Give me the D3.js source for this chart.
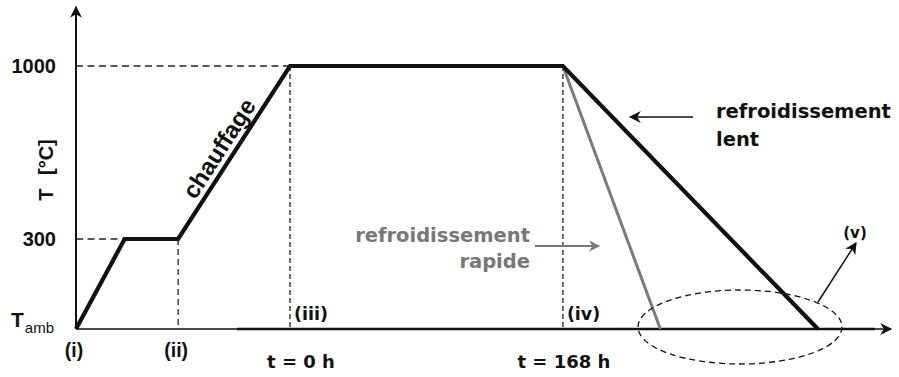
<!DOCTYPE html>
<html>
<head>
<meta charset="utf-8">
<script src="https://cdn.jsdelivr.net/npm/d3@7"></script>
<style>
  body { margin: 0; background: #fff; }
  svg text { fill: #111; }
</style>
</head>
<body>
<div id="graph"></div>
<script>
var width = 899;
var height = 377;

// time in hours (t = 0 h at the start of the 1000 °C hold)
var heatTimes = [-132, -102, -69, 0, 168];
var heatTemps = [25, 300, 300, 1000, 1000];
var slowTimes = [168, 325];
var slowTemps = [1000, 25];
var fastTimes = [168, 228];
var fastTemps = [1000, 25];

var yTicks = [300, 1000];
var yTickLabels = ["300", "1000"];
var stepTimes = [-132, -69, 0, 168];
var stepLabels = ["(i)", "(ii)", "(iii)", "(iv)"];
var timeTicks = [0, 168];
var timeTickLabels = ["t = 0 h", "t = 168 h"];

var x = d3.scaleLinear().domain([-132, 0, 370]).range([76, 290, 891]);
var y = d3.scaleLinear().domain([25, 300, 1000]).range([329, 239, 66]);

var svg = d3.select("#graph").append("svg")
  .attr("width", width)
  .attr("height", height);

var defs = svg.append("defs");
function addArrow(id, color, w, h) {
  defs.append("marker")
    .attr("id", id)
    .attr("viewBox", "0 0 10 10")
    .attr("refX", 9).attr("refY", 5)
    .attr("markerUnits", "userSpaceOnUse")
    .attr("markerWidth", w).attr("markerHeight", h)
    .attr("orient", "auto")
    .append("path")
    .attr("d", "M0,0 L10,5 L0,10 L3,5 Z")
    .attr("fill", color);
}
addArrow("arrBlack", "#111", 14, 12);
addArrow("arrGray", "#777", 13, 11);
addArrow("arrAxis", "#111", 16, 12);

// dashed guide lines
var guides = svg.append("g")
  .attr("stroke", "#222")
  .attr("stroke-width", 1.3)
  .attr("stroke-dasharray", "7,4.5")
  .attr("fill", "none");
guides.append("line").attr("x1", x(-132)).attr("x2", x(0)).attr("y1", y(1000)).attr("y2", y(1000));
guides.append("line").attr("x1", x(-132)).attr("x2", x(-102)).attr("y1", y(300)).attr("y2", y(300));
guides.append("line").attr("x1", x(-69)).attr("x2", x(-69)).attr("y1", y(300)).attr("y2", y(25)).attr("stroke-dasharray", "6,4");
guides.append("line").attr("x1", x(0)).attr("x2", x(0)).attr("y1", y(1000)).attr("y2", y(25)).attr("stroke-dasharray", "5,3");
guides.append("line").attr("x1", x(168)).attr("x2", x(168)).attr("y1", y(1000)).attr("y2", y(25)).attr("stroke-dasharray", "5,3");

// axes
svg.append("line")
  .attr("x1", x(-132)).attr("x2", x(-132))
  .attr("y1", y(25)).attr("y2", 7)
  .attr("stroke", "#111").attr("stroke-width", 2)
  .attr("marker-end", "url(#arrAxis)");
svg.append("line")
  .attr("x1", x(-132)).attr("x2", x(370))
  .attr("y1", y(25)).attr("y2", y(25))
  .attr("stroke", "#111").attr("stroke-width", 1.7)
  .attr("marker-end", "url(#arrAxis)");
svg.append("line")
  .attr("x1", 237).attr("x2", x(360))
  .attr("y1", y(25)).attr("y2", y(25))
  .attr("stroke", "#111").attr("stroke-width", 2.3);

var line = d3.line()
  .x(function (d) { return x(d[0]); })
  .y(function (d) { return y(d[1]); });

svg.append("path")
  .datum(d3.zip(fastTimes, fastTemps))
  .attr("d", line)
  .attr("fill", "none")
  .attr("stroke", "#7a7a7a")
  .attr("stroke-width", 3);

svg.append("path")
  .datum(d3.zip(heatTimes, heatTemps).concat(d3.zip(slowTimes, slowTemps).slice(1)))
  .attr("d", line)
  .attr("fill", "none")
  .attr("stroke", "#111")
  .attr("stroke-width", 4.2)
  .attr("stroke-linejoin", "miter");

// y tick labels
var tickFont = "'Liberation Sans', Arial, sans-serif";
svg.selectAll(".ytick")
  .data(yTicks)
  .enter()
  .append("text")
  .attr("class", "ytick")
  .attr("x", 56)
  .attr("y", function (d) { return y(d); })
  .attr("dy", "0.36em")
  .attr("text-anchor", "end")
  .style("font-family", tickFont)
  .style("font-size", "20px")
  .style("font-weight", "bold")
  .text(function (d, i) { return yTickLabels[i]; });

var tamb = svg.append("text")
  .attr("x", 11).attr("y", 327)
  .style("font-family", tickFont)
  .style("font-size", "21px")
  .style("font-weight", "bold");
tamb.append("tspan").text("T");
tamb.append("tspan").attr("dy", 6).attr("dx", 1).style("font-size", "15px").style("font-weight", "normal").text("amb");

svg.append("text")
  .attr("transform", "translate(53,170) rotate(-90)")
  .attr("text-anchor", "middle")
  .style("font-family", tickFont)
  .style("font-size", "20px")
  .style("font-weight", "bold")
  .style("word-spacing", "8px")
  .text("T [°C]");

// step labels
var noteFont = "'DejaVu Sans', Verdana, sans-serif";
svg.selectAll(".step")
  .data(stepTimes)
  .enter()
  .append("text")
  .attr("class", "step")
  .attr("x", function (d, i) { return i < 2 ? x(d) - 2 : x(d) + 4; })
  .attr("y", function (d, i) { return i < 2 ? 357 : 320; })
  .attr("text-anchor", function (d, i) { return i < 2 ? "middle" : "start"; })
  .style("font-family", function (d, i) { return i < 2 ? tickFont : noteFont; })
  .style("font-size", function (d, i) { return i < 2 ? "19.5px" : "17.5px"; })
  .style("font-weight", "bold")
  .text(function (d, i) { return stepLabels[i]; });

svg.selectAll(".ttick")
  .data(timeTicks)
  .enter()
  .append("text")
  .attr("class", "ttick")
  .attr("x", function (d, i) { return x(d) + [11, 1][i]; })
  .attr("y", 368)
  .attr("text-anchor", "middle")
  .style("font-family", noteFont)
  .style("font-size", "18px")
  .style("font-weight", "bold")
  .text(function (d, i) { return timeTickLabels[i]; });

// chauffage along the heating ramp
var ang = Math.atan2(y(1000) - y(300), x(0) - x(-69)) * 180 / Math.PI;
svg.append("text")
  .attr("transform", "translate(226,153) rotate(" + ang + ")")
  .attr("text-anchor", "middle")
  .style("font-family", tickFont)
  .style("font-size", "24px")
  .style("font-weight", "bold")
  .text("chauffage");

// annotations
var slow = svg.append("text")
  .attr("x", 716).attr("y", 118)
  .style("font-family", noteFont)
  .style("font-size", "19.5px")
  .style("font-weight", "bold");
slow.append("tspan").attr("x", 716).text("refroidissement");
slow.append("tspan").attr("x", 716).attr("dy", 28).text("lent");

svg.append("line")
  .attr("x1", 693).attr("x2", 630).attr("y1", 117).attr("y2", 117)
  .attr("stroke", "#111").attr("stroke-width", 1.5)
  .attr("marker-end", "url(#arrBlack)");

var fast = svg.append("text")
  .attr("x", 530).attr("y", 242)
  .attr("text-anchor", "end")
  .style("font-family", noteFont)
  .style("font-size", "19.5px")
  .style("font-weight", "bold");
fast.append("tspan").attr("x", 530).style("fill", "#777").text("refroidissement");
fast.append("tspan").attr("x", 530).attr("dy", 26).style("fill", "#777").text("rapide");

svg.append("line")
  .attr("x1", 535).attr("x2", 599).attr("y1", 246).attr("y2", 246)
  .attr("stroke", "#777").attr("stroke-width", 2)
  .attr("marker-end", "url(#arrGray)");

// end zone ellipse
svg.append("ellipse")
  .attr("cx", 740).attr("cy", 327)
  .attr("rx", 102).attr("ry", 37)
  .attr("fill", "none")
  .attr("stroke", "#111")
  .attr("stroke-width", 1.3)
  .attr("stroke-dasharray", "6,4");

svg.append("line")
  .attr("x1", 818).attr("x2", 856).attr("y1", 302).attr("y2", 243)
  .attr("stroke", "#111").attr("stroke-width", 1.5)
  .attr("marker-end", "url(#arrBlack)");

svg.append("text")
  .attr("x", 855).attr("y", 238)
  .attr("text-anchor", "middle")
  .style("font-family", noteFont)
  .style("font-size", "15px")
  .style("font-weight", "bold")
  .text("(v)");
</script>
</body>
</html>
